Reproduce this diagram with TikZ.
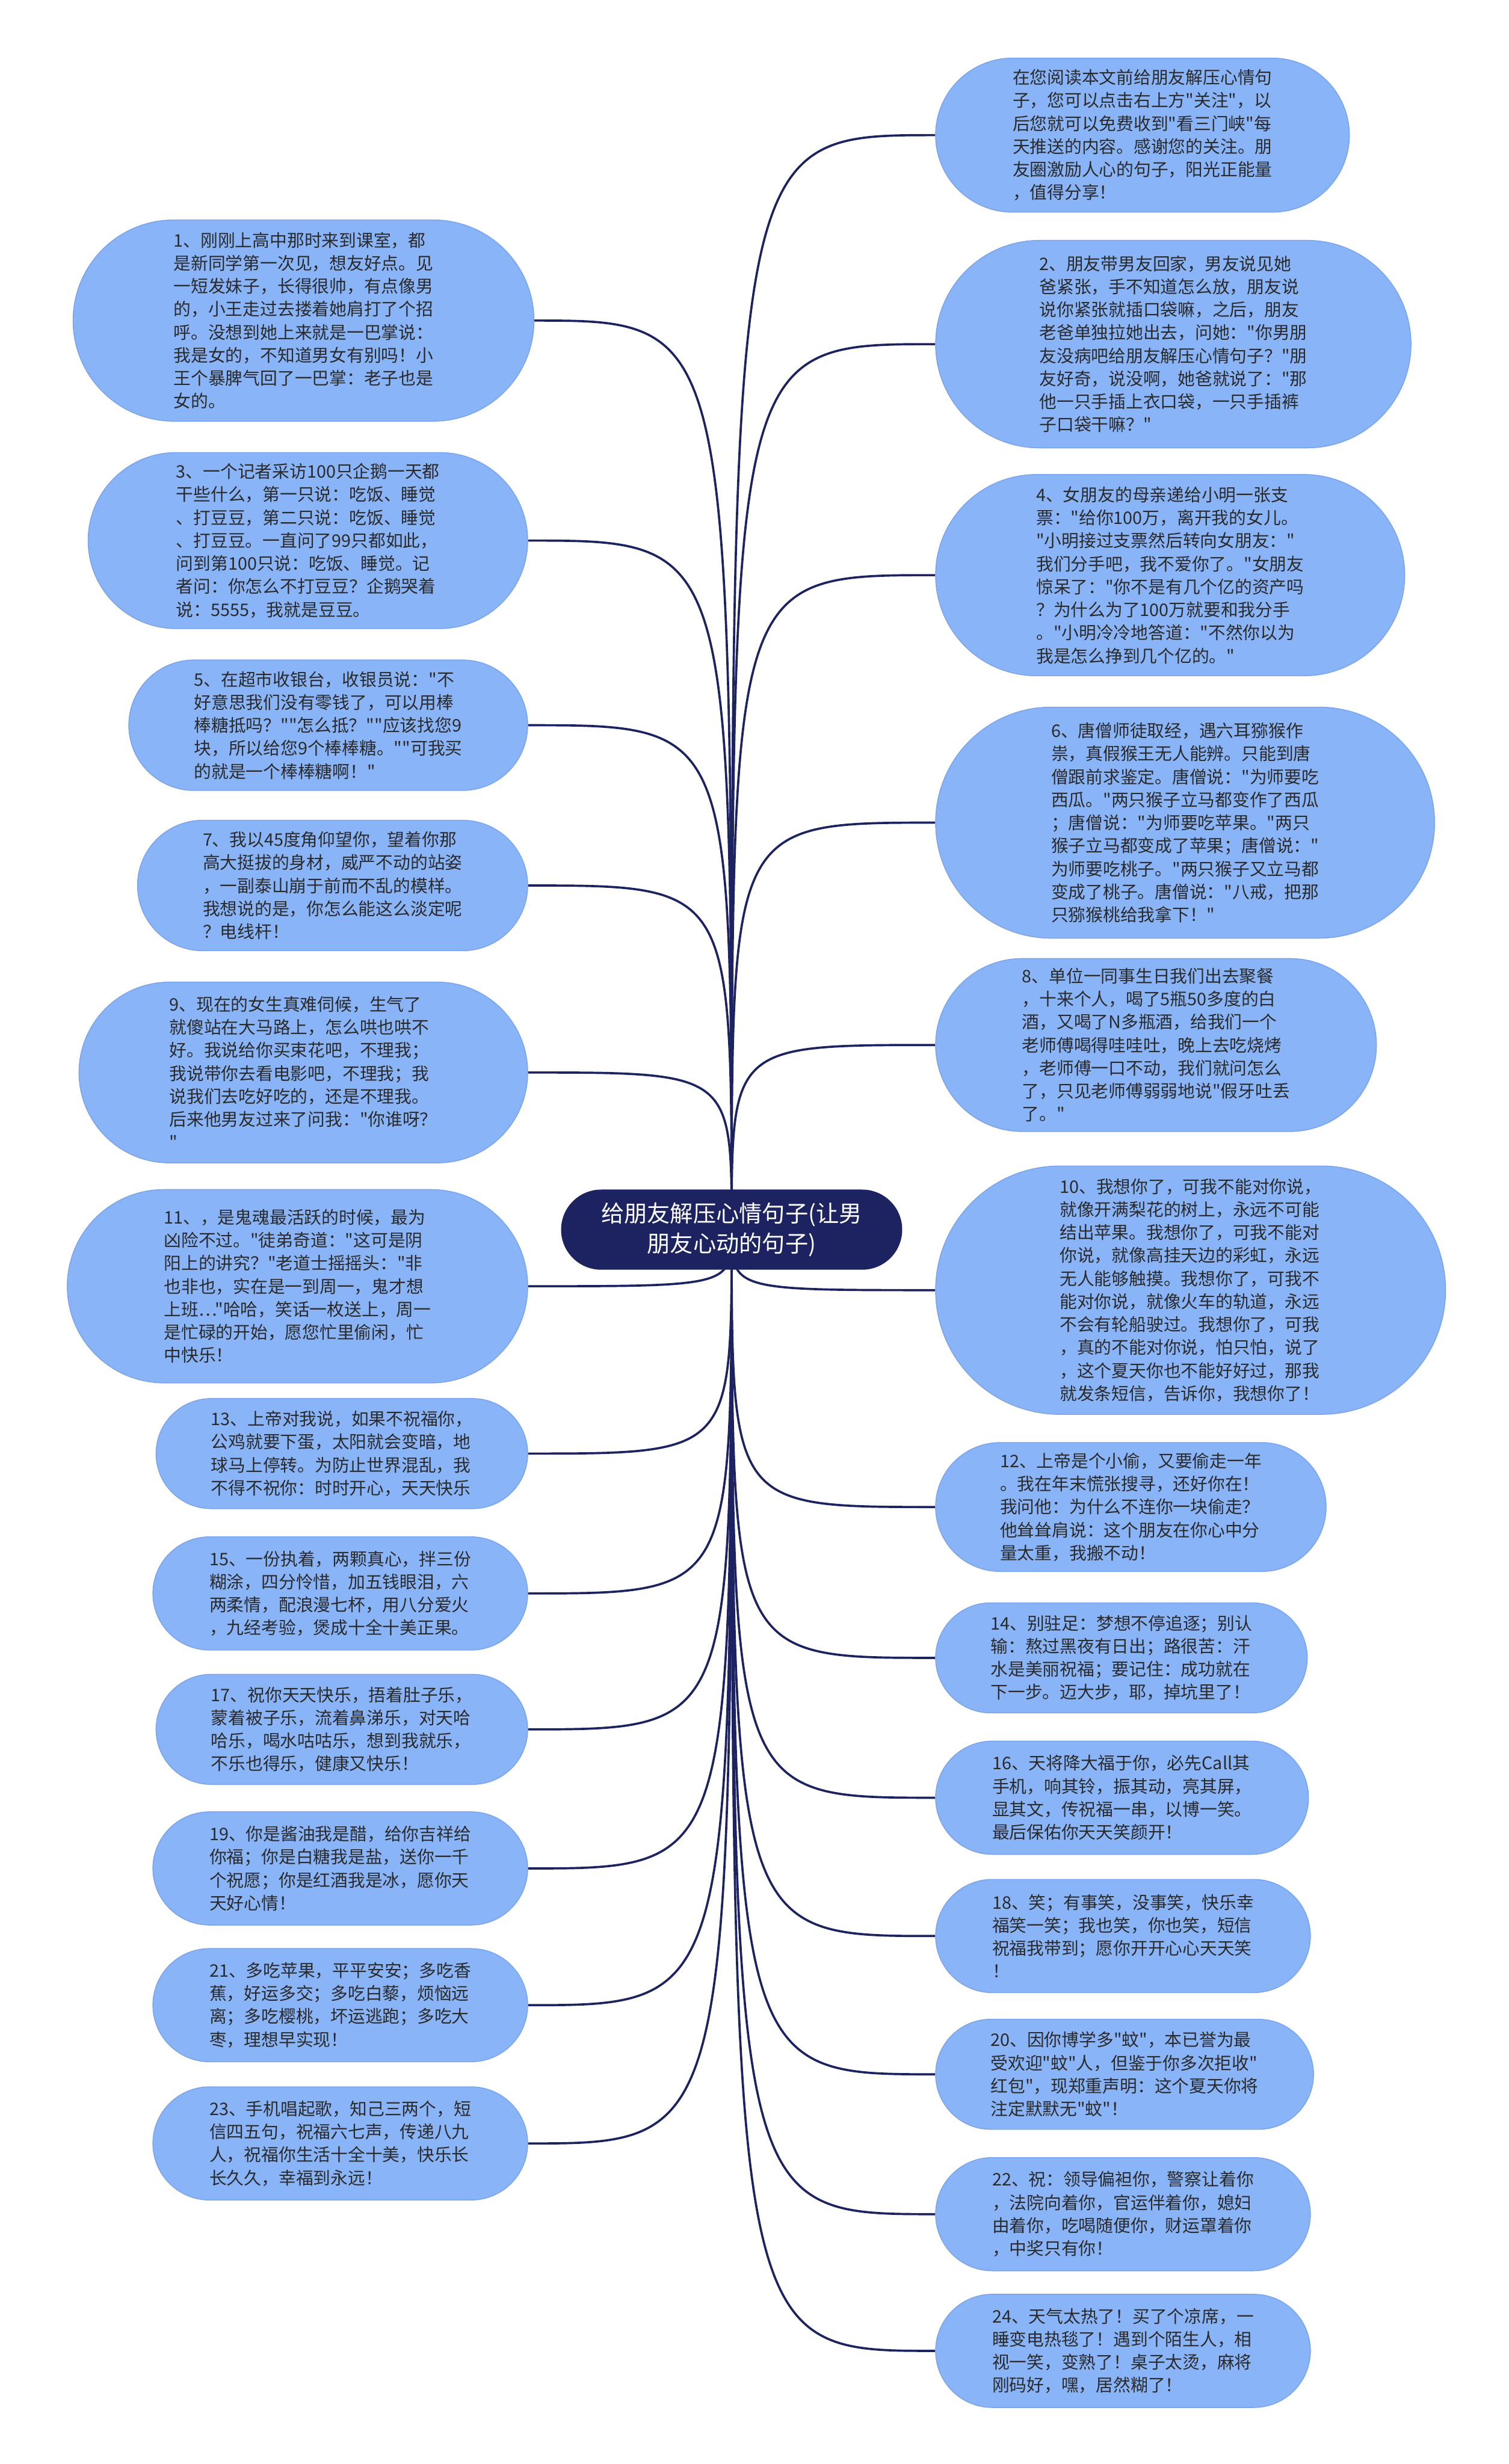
\documentclass[tikz,border=0pt]{standalone}
\usepackage{fontspec}
\newfontfamily\cjk{Noto Sans CJK SC}
\usetikzlibrary{positioning, backgrounds}

\definecolor{leafblue}{HTML}{8AB4F8}
\definecolor{leafedge}{HTML}{7AA4EC}
\definecolor{hubnavy}{HTML}{1C2360}
\definecolor{textgray}{HTML}{2A2A2A}

\begin{document}
\begin{tikzpicture}[
    x=0.03cm, y=-0.03cm,
    leaf/.style={rectangle, draw=leafedge, line width=0.5pt, fill=leafblue, text=textgray, align=left, minimum height=#1*0.03cm, inner xsep=#1*0.015cm, inner ysep=0.05cm, rounded corners=#1*0.015cm, font=\cjk\fontsize{9.4}{12.5}\selectfont},
    hub/.style={rectangle, fill=hubnavy, text=white, align=center, minimum height=#1*0.03cm, inner xsep=#1*0.015cm, inner ysep=0.05cm, rounded corners=#1*0.015cm, font=\cjk\fontsize{12.5}{16.5}\selectfont},
    link/.style={draw=hubnavy, line width=1.2pt}
]

\useasboundingbox (0,0) rectangle (960,1568);

% Central topic
\node[hub=51] (hub) at (465.5,782.5) {给朋友解压心情句子(让男\\朋友心动的句子)};

% Left branch
\node[leaf=128, anchor=east] (l1) at (340,204) {1、刚刚上高中那时来到课室，都\\是新同学第一次见，想友好点。见\\一短发妹子，长得很帅，有点像男\\的，小王走过去搂着她肩打了个招\\呼。没想到她上来就是一巴掌说：\\我是女的，不知道男女有别吗！小\\王个暴脾气回了一巴掌：老子也是\\女的。};
\node[leaf=112, anchor=east] (l3) at (336,344) {3、一个记者采访100只企鹅一天都\\干些什么，第一只说：吃饭、睡觉\\、打豆豆，第二只说：吃饭、睡觉\\、打豆豆。一直问了99只都如此，\\问到第100只说：吃饭、睡觉。记\\者问：你怎么不打豆豆？企鹅哭着\\说：5555，我就是豆豆。};
\node[leaf=83, anchor=east] (l5) at (336,461.5) {5、在超市收银台，收银员说："不\\好意思我们没有零钱了，可以用棒\\棒糖抵吗？""怎么抵？""应该找您9\\块，所以给您9个棒棒糖。""可我买\\的就是一个棒棒糖啊！"};
\node[leaf=83, anchor=east] (l7) at (336,563.5) {7、我以45度角仰望你，望着你那\\高大挺拔的身材，威严不动的站姿\\，一副泰山崩于前而不乱的模样。\\我想说的是，你怎么能这么淡定呢\\？电线杆！};
\node[leaf=115, anchor=east] (l9) at (336,682.5) {9、现在的女生真难伺候，生气了\\就傻站在大马路上，怎么哄也哄不\\好。我说给你买束花吧，不理我；\\我说带你去看电影吧，不理我；我\\说我们去吃好吃的，还是不理我。\\后来他男友过来了问我："你谁呀？\\"};
\node[leaf=123, anchor=east] (l11) at (336,818.5) {11、，是鬼魂最活跃的时候，最为\\凶险不过。"徒弟奇道："这可是阴\\阳上的讲究？"老道士摇摇头："非\\也非也，实在是一到周一，鬼才想\\上班…"哈哈，笑话一枚送上，周一\\是忙碌的开始，愿您忙里偷闲，忙\\中快乐！};
\node[leaf=70, anchor=east] (l13) at (336,925) {13、上帝对我说，如果不祝福你，\\公鸡就要下蛋，太阳就会变暗，地\\球马上停转。为防止世界混乱，我\\不得不祝你：时时开心，天天快乐};
\node[leaf=72, anchor=east] (l15) at (336,1014) {15、一份执着，两颗真心，拌三份\\糊涂，四分怜惜，加五钱眼泪，六\\两柔情，配浪漫七杯，用八分爱火\\，九经考验，煲成十全十美正果。};
\node[leaf=70, anchor=east] (l17) at (336,1100.5) {17、祝你天天快乐，捂着肚子乐，\\蒙着被子乐，流着鼻涕乐，对天哈\\哈乐，喝水咕咕乐，想到我就乐，\\不乐也得乐，健康又快乐！};
\node[leaf=72, anchor=east] (l19) at (336,1189) {19、你是酱油我是醋，给你吉祥给\\你福；你是白糖我是盐，送你一千\\个祝愿；你是红酒我是冰，愿你天\\天好心情！};
\node[leaf=72, anchor=east] (l21) at (336,1276) {21、多吃苹果，平平安安；多吃香\\蕉，好运多交；多吃白藜，烦恼远\\离；多吃樱桃，坏运逃跑；多吃大\\枣，理想早实现！};
\node[leaf=72, anchor=east] (l23) at (336,1364) {23、手机唱起歌，知己三两个，短\\信四五句，祝福六七声，传递八九\\人，祝福你生活十全十美，快乐长\\长久久，幸福到永远！};

% Right branch
\node[leaf=98, anchor=west] (r0) at (595,86) {在您阅读本文前给朋友解压心情句\\子，您可以点击右上方"关注"，以\\后您就可以免费收到"看三门峡"每\\天推送的内容。感谢您的关注。朋\\友圈激励人心的句子，阳光正能量\\，值得分享！};
\node[leaf=132, anchor=west] (r2) at (595,219) {2、朋友带男友回家，男友说见她\\爸紧张，手不知道怎么放，朋友说\\说你紧张就插口袋嘛，之后，朋友\\老爸单独拉她出去，问她："你男朋\\友没病吧给朋友解压心情句子？"朋\\友好奇，说没啊，她爸就说了："那\\他一只手插上衣口袋，一只手插裤\\子口袋干嘛？"};
\node[leaf=128, anchor=west] (r4) at (595,366) {4、女朋友的母亲递给小明一张支\\票："给你100万，离开我的女儿。\\"小明接过支票然后转向女朋友："\\我们分手吧，我不爱你了。"女朋友\\惊呆了："你不是有几个亿的资产吗\\？为什么为了100万就要和我分手\\。"小明冷冷地答道："不然你以为\\我是怎么挣到几个亿的。"};
\node[leaf=147, anchor=west] (r6) at (595,523.5) {6、唐僧师徒取经，遇六耳猕猴作\\祟，真假猴王无人能辨。只能到唐\\僧跟前求鉴定。唐僧说："为师要吃\\西瓜。"两只猴子立马都变作了西瓜\\；唐僧说："为师要吃苹果。"两只\\猴子立马都变成了苹果；唐僧说："\\为师要吃桃子。"两只猴子又立马都\\变成了桃子。唐僧说："八戒，把那\\只猕猴桃给我拿下！"};
\node[leaf=110, anchor=west] (r8) at (595,665) {8、单位一同事生日我们出去聚餐\\，十来个人，喝了5瓶50多度的白\\酒，又喝了N多瓶酒，给我们一个\\老师傅喝得哇哇吐，晚上去吃烧烤\\，老师傅一口不动，我们就问怎么\\了，只见老师傅弱弱地说"假牙吐丢\\了。"};
\node[leaf=158, anchor=west] (r10) at (595,821) {10、我想你了，可我不能对你说，\\就像开满梨花的树上，永远不可能\\结出苹果。我想你了，可我不能对\\你说，就像高挂天边的彩虹，永远\\无人能够触摸。我想你了，可我不\\能对你说，就像火车的轨道，永远\\不会有轮船驶过。我想你了，可我\\，真的不能对你说，怕只怕，说了\\，这个夏天你也不能好好过，那我\\就发条短信，告诉你，我想你了！};
\node[leaf=82, anchor=west] (r12) at (595,959) {12、上帝是个小偷，又要偷走一年\\。我在年末慌张搜寻，还好你在！\\我问他：为什么不连你一块偷走？\\他耸耸肩说：这个朋友在你心中分\\量太重，我搬不动！};
\node[leaf=70, anchor=west] (r14) at (595,1055) {14、别驻足：梦想不停追逐；别认\\输：熬过黑夜有日出；路很苦：汗\\水是美丽祝福；要记住：成功就在\\下一步。迈大步，耶，掉坑里了！};
\node[leaf=72, anchor=west] (r16) at (595,1144) {16、天将降大福于你，必先Call其\\手机，响其铃，振其动，亮其屏，\\显其文，传祝福一串，以博一笑。\\最后保佑你天天笑颜开！};
\node[leaf=72, anchor=west] (r18) at (595,1232) {18、笑；有事笑，没事笑，快乐幸\\福笑一笑；我也笑，你也笑，短信\\祝福我带到；愿你开开心心天天笑\\！};
\node[leaf=70, anchor=west] (r20) at (595,1320) {20、因你博学多"蚊"，本已誉为最\\受欢迎"蚊"人，但鉴于你多次拒收"\\红包"，现郑重声明：这个夏天你将\\注定默默无"蚊"！};
\node[leaf=72, anchor=west] (r22) at (595,1409) {22、祝：领导偏袒你，警察让着你\\，法院向着你，官运伴着你，媳妇\\由着你，吃喝随便你，财运罩着你\\，中奖只有你！};
\node[leaf=72, anchor=west] (r24) at (595,1496) {24、天气太热了！买了个凉席，一\\睡变电热毯了！遇到个陌生人，相\\视一笑，变熟了！桌子太烫，麻将\\刚码好，嘿，居然糊了！};

% Connectors
\begin{scope}[on background layer]
    \fill[white] (0,0) rectangle (960,1568);
    \draw[link] (hub.center) .. controls (hub.center |- l1.east) .. (l1.east);
    \draw[link] (hub.center) .. controls (hub.center |- l3.east) .. (l3.east);
    \draw[link] (hub.center) .. controls (hub.center |- l5.east) .. (l5.east);
    \draw[link] (hub.center) .. controls (hub.center |- l7.east) .. (l7.east);
    \draw[link] (hub.center) .. controls (hub.center |- l9.east) .. (l9.east);
    \draw[link] (hub.center) .. controls (hub.center |- l11.east) .. (l11.east);
    \draw[link] (hub.center) .. controls (hub.center |- l13.east) .. (l13.east);
    \draw[link] (hub.center) .. controls (hub.center |- l15.east) .. (l15.east);
    \draw[link] (hub.center) .. controls (hub.center |- l17.east) .. (l17.east);
    \draw[link] (hub.center) .. controls (hub.center |- l19.east) .. (l19.east);
    \draw[link] (hub.center) .. controls (hub.center |- l21.east) .. (l21.east);
    \draw[link] (hub.center) .. controls (hub.center |- l23.east) .. (l23.east);
    \draw[link] (hub.center) .. controls (hub.center |- r0.west) .. (r0.west);
    \draw[link] (hub.center) .. controls (hub.center |- r2.west) .. (r2.west);
    \draw[link] (hub.center) .. controls (hub.center |- r4.west) .. (r4.west);
    \draw[link] (hub.center) .. controls (hub.center |- r6.west) .. (r6.west);
    \draw[link] (hub.center) .. controls (hub.center |- r8.west) .. (r8.west);
    \draw[link] (hub.center) .. controls (hub.center |- r10.west) .. (r10.west);
    \draw[link] (hub.center) .. controls (hub.center |- r12.west) .. (r12.west);
    \draw[link] (hub.center) .. controls (hub.center |- r14.west) .. (r14.west);
    \draw[link] (hub.center) .. controls (hub.center |- r16.west) .. (r16.west);
    \draw[link] (hub.center) .. controls (hub.center |- r18.west) .. (r18.west);
    \draw[link] (hub.center) .. controls (hub.center |- r20.west) .. (r20.west);
    \draw[link] (hub.center) .. controls (hub.center |- r22.west) .. (r22.west);
    \draw[link] (hub.center) .. controls (hub.center |- r24.west) .. (r24.west);
\end{scope}

\end{tikzpicture}
\end{document}
